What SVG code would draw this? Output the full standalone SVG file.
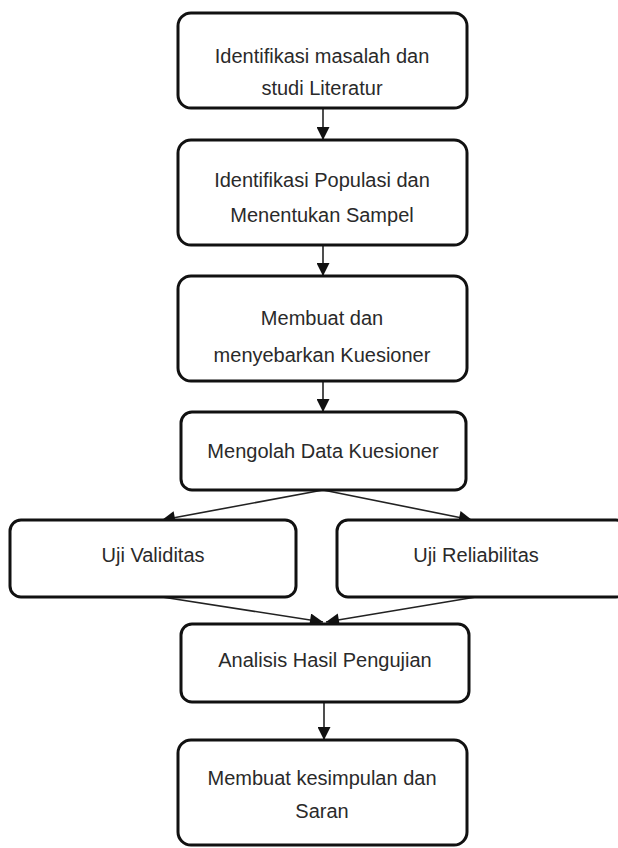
<svg xmlns="http://www.w3.org/2000/svg" width="618" height="848" viewBox="0 0 618 848">
<defs>
<style>
.box{fill:#fff;stroke:#111;stroke-width:3}
.t{font-family:"Liberation Sans",Arial,sans-serif;font-size:20px;fill:#2a2a2a;text-anchor:middle}
.c{stroke:#222;stroke-width:1.6;fill:none}
</style>
<marker id="ah" viewBox="0 0 10 10" refX="10" refY="5" markerWidth="16" markerHeight="13" markerUnits="userSpaceOnUse" orient="auto">
<path d="M0,0 L10,5 L0,10 z" fill="#111"/>
</marker>
</defs>
<rect width="618" height="848" fill="#fff"/>
<g id="connectors">
<line class="c" x1="323" y1="108" x2="323" y2="140" marker-end="url(#ah)"/>
<line class="c" x1="323" y1="245" x2="323" y2="276" marker-end="url(#ah)"/>
<line class="c" x1="323" y1="381" x2="323" y2="412" marker-end="url(#ah)"/>
<line class="c" x1="323" y1="490" x2="162" y2="520" marker-end="url(#ah)"/>
<line class="c" x1="323" y1="490" x2="472" y2="520" marker-end="url(#ah)"/>
<line class="c" x1="162" y1="597" x2="323" y2="622" marker-end="url(#ah)"/>
<line class="c" x1="476" y1="597" x2="326" y2="622" marker-end="url(#ah)"/>
<line class="c" x1="324" y1="702" x2="324" y2="740" marker-end="url(#ah)"/>
</g>
<g id="n1">
<rect class="box" x="178" y="13" width="289" height="95" rx="13"/>
<text class="t" x="322" y="63">Identifikasi masalah dan</text>
<text class="t" x="322" y="95">studi Literatur</text>
</g>
<g id="n2">
<rect class="box" x="178" y="140" width="289" height="105" rx="13"/>
<text class="t" x="322" y="187">Identifikasi Populasi dan</text>
<text class="t" x="322" y="222">Menentukan Sampel</text>
</g>
<g id="n3">
<rect class="box" x="178" y="276" width="289" height="105" rx="13"/>
<text class="t" x="322" y="325">Membuat dan</text>
<text class="t" x="322" y="362">menyebarkan Kuesioner</text>
</g>
<g id="n4">
<rect class="box" x="181" y="412" width="285" height="78" rx="11"/>
<text class="t" x="323" y="458">Mengolah Data Kuesioner</text>
</g>
<g id="n5">
<rect class="box" x="10" y="520" width="286" height="77" rx="11"/>
<text class="t" x="153" y="562">Uji Validitas</text>
</g>
<g id="n6">
<rect class="box" x="337" y="520" width="290" height="77" rx="11"/>
<text class="t" x="476" y="562">Uji Reliabilitas</text>
</g>
<g id="n7">
<rect class="box" x="181" y="624" width="288" height="78" rx="11"/>
<text class="t" x="325" y="667">Analisis Hasil Pengujian</text>
</g>
<g id="n8">
<rect class="box" x="178" y="740" width="289" height="105" rx="13"/>
<text class="t" x="322" y="785">Membuat kesimpulan dan</text>
<text class="t" x="322" y="818">Saran</text>
</g>
</svg>
